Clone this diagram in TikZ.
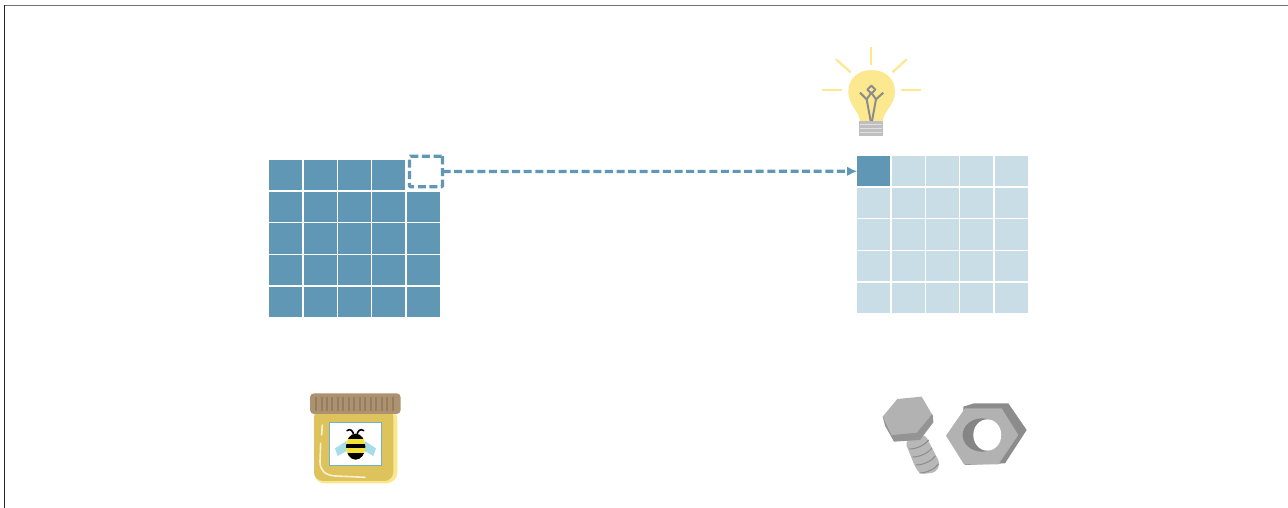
\documentclass[tikz,border=0pt]{standalone}
\usetikzlibrary{arrows.meta}
\definecolor{cellblue}{HTML}{5F97B5}
\definecolor{celllight}{HTML}{C8DDE6}
\definecolor{bulb}{HTML}{FBE88F}
\definecolor{capbrown}{HTML}{AC9270}
\definecolor{capdark}{HTML}{957E5F}
\definecolor{jarout}{HTML}{FAE68C}
\definecolor{jarin}{HTML}{DEC35C}
\definecolor{labelteal}{HTML}{6CB6C2}
\definecolor{wing}{HTML}{A5DDE8}
\definecolor{beeyellow}{HTML}{F4E23A}
\tikzset{
  cellbase/.style={inner sep=0pt,outer sep=0pt,minimum width=33pt,minimum height=30.3pt,fill=#1},
  holebox/.style={inner sep=0pt,outer sep=0pt,minimum width=33pt,minimum height=30.5pt,draw=cellblue,line width=3.2pt,dash pattern=on 8pt off 3.6pt,rounded corners=1pt,fill=white},
  link/.style={draw=cellblue,line width=3.2pt,dash pattern=on 8pt off 3.6pt,-{Latex[length=10pt,width=9.5pt,fill=cellblue]}},
  ray/.style={draw=bulb,line width=2.2pt},
  filament/.style={draw=black!45,line width=2pt,line join=round},
  zoomed/.style={x=0.3333pt,y=-0.3333pt},
}
\begin{document}
\begin{tikzpicture}[x=1pt,y=-1pt]
\useasboundingbox (0,0) rectangle (1288,508);
\fill[white] (0,0) rectangle (1288,508);
\draw[black!55,line width=1pt] (1288,5.5) -- (4,5.5);
\draw[black!85,line width=1pt] (4,5.5) -- (4,508);
% left grid
\foreach \r in {0,...,4}{\foreach \c in {0,...,4}{
  \ifnum\r=0 \ifnum\c=4 \else
    \node[cellbase=cellblue] (L\r\c) at ({285.7+34.4*\c},{175.3+31.6*\r}) {};
  \fi\else
    \node[cellbase=cellblue] (L\r\c) at ({285.7+34.4*\c},{175.3+31.6*\r}) {};
  \fi
}}
% right grid
\foreach \r in {0,...,4}{\foreach \c in {0,...,4}{
  \node[cellbase=celllight] (R\r\c) at ({873.7+34.4*\c},{171.3+31.6*\r}) {};
}}
\node[cellbase=cellblue] (target) at (873.7,171.3) {};
\node[holebox] (hole) at (426,171.5) {};
\draw[link] (hole.east) -- (target.west);
% bulb
\begin{scope}[shift={(810,40)},zoomed]
  \draw[ray] (184,22) -- (184,75);
  \draw[ray] (78,58) -- (122,97);
  \draw[ray] (290,58) -- (247,97);
  \draw[ray] (37,151) -- (97,151);
  \draw[ray] (272,151) -- (332,151);
  \fill[bulb] (150,243) .. controls (148,215) and (115,195) .. (115,155)
     .. controls (115,115) and (145,90) .. (185,90)
     .. controls (225,90) and (255,115) .. (255,155)
     .. controls (255,195) and (220,215) .. (218,243) -- cycle;
  \fill[black!25] (146,243) rectangle (220,287);
  \foreach \yy in {253,265,277}{\fill[black!12] (150,\yy-1.2) rectangle (216,\yy+1.2);}
  \draw[filament] (150,158) -- (170,178) -- (182,243);
  \draw[filament] (220,158) -- (198,178) -- (186,243);
  \draw[filament] (170,178) -- (184,158) -- (198,178);
  \draw[filament] (184,137) -- (196,149) -- (184,161) -- (172,149) -- cycle;
\end{scope}
% jar
\begin{scope}[shift={(290,380)},zoomed]
  \fill[jarout,rounded corners=11pt] (72,85) -- (322,85) -- (322,310) -- (72,310) -- cycle;
  \fill[jarin,rounded corners=9pt] (72,85) -- (310,85) -- (310,303) -- (72,303) -- cycle;
  \draw[white!75!jarin,line width=1.6pt,line cap=round] (97,135) -- (95,165);
  \draw[white!75!jarin,line width=1.6pt,line cap=round] (92,190) -- (90,245) .. controls (90,272) and (105,285) .. (135,288) -- (225,292);
  \fill[capbrown,rounded corners=4pt] (60,40) rectangle (332,102);
  \foreach \xx in {78,94.5,...,325}{\draw[capdark,line width=2pt] (\xx,52) -- (\xx,92);}
  \draw[labelteal,fill=white,line width=1.3pt] (118,128) rectangle (275,257);
  \fill[wing] (135,205) -- (170,183) -- (170,213) -- (143,228) -- cycle;
  \fill[wing] (258,205) -- (224,183) -- (224,213) -- (250,228) -- cycle;
  \draw[black,line width=1.6pt,line cap=round] (192,170) .. controls (190,150) and (180,145) .. (171,152);
  \draw[black,line width=1.6pt,line cap=round] (200,170) .. controls (202,150) and (212,145) .. (221,152);
  \begin{scope}
    \clip (197,200) ellipse [x radius=29,y radius=39];
    \fill[beeyellow] (165,160) rectangle (230,240);
    \fill[black] (165,160) rectangle (230,178);
    \fill[black] (165,192) rectangle (230,204);
    \fill[black] (165,218) rectangle (230,240);
  \end{scope}
\end{scope}
% bolt and nut
\begin{scope}[shift={(870,385)},zoomed]
  \fill[black!28,rounded corners=4pt] (105,170) -- (165,148) -- (210,235) -- (198,262) -- (150,268) -- (135,245) -- cycle;
  \foreach \a/\b in {0/0,24/10,48/20,72/30}{
    \draw[black!45,line width=1pt] (118+\b,192+\a) .. controls (140+\b,192+\a) and (165+\b,180+\a) .. (176+\b,165+\a);
  }
  \fill[black!42] (38,95) -- (45,122) -- (72,170) -- (150,165) -- (190,112) -- (188,88) -- cycle;
  \fill[black!30] (38,95) -- (82,42) -- (155,35) -- (186,88) -- (140,143) -- (65,150) -- cycle;
  \fill[black!45] (280,65) -- (312,55) -- (415,55) -- (470,135) -- (405,235) -- (285,240) -- cycle;
  \fill[black!30] (228,152) -- (285,70) -- (395,70) -- (445,150) -- (385,238) -- (282,238) -- cycle;
  \fill[black!48] (336,150) ellipse [x radius=58,y radius=50];
  \fill[white] (352,150) ellipse [x radius=42,y radius=47];
\end{scope}
\end{tikzpicture}
\end{document}
